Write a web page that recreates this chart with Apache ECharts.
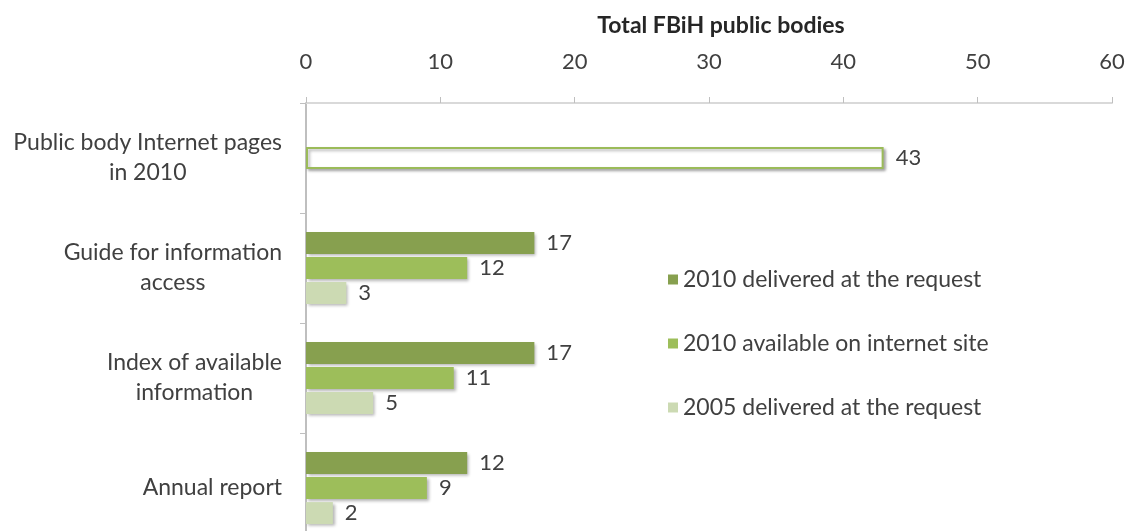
<!DOCTYPE html>
<html>
<head>
<meta charset="utf-8">
<script src="https://cdn.jsdelivr.net/npm/echarts@6/dist/echarts.min.js"></script>
<style>html,body{margin:0;padding:0;background:#fff}#c{width:1137px;height:531px}</style>
</head>
<body>
<div id="c"></div>
<script>
const categories = ['Public body Internet pages\nin 2010', 'Guide for information\naccess', 'Index of available\ninformation', 'Annual report'];
const seriesNames = ['2010 delivered at the request', '2010 available on internet site', '2005 delivered at the request'];
const delivered2010 = [null, 17, 17, 12];
const available2010 = [43, 12, 11, 9];
const delivered2005 = [null, 3, 5, 2];
const xTicks = { min: 0, max: 60, interval: 10 };
const axisTitle = 'Total FBiH public bodies';

const colors = ['#87A04F', '#9DBE5A', '#CCDAB3'];
const font = 'Lato, "Liberation Sans", sans-serif';
const shadow = { shadowBlur: 3, shadowOffsetX: 2, shadowOffsetY: 2, shadowColor: 'rgba(0,0,0,0.3)' };

function mkSeries(name, data, color, idx) {
  return {
    name: name,
    type: 'bar',
    data: data.map((v, i) => {
      if (idx === 1 && i === 0) {
        return { value: v, itemStyle: Object.assign({ color: '#ffffff', borderColor: '#9BBB59', borderWidth: 2 }, shadow) };
      }
      return v;
    }),
    barWidth: 22,
    barGap: '14%',
    itemStyle: Object.assign({ color: color }, shadow),
    label: { show: true, position: 'right', distance: 12, color: '#404040', fontSize: 22, fontFamily: font },
    emphasis: { disabled: true }
  };
}

const chart = echarts.init(document.getElementById('c'));
chart.setOption({
  animation: false,
  color: colors,
  grid: { left: 306, top: 103, width: 806, height: 440, containLabel: false, outerBoundsMode: 'none' },
  legend: {
    orient: 'vertical', left: 663, top: 263, itemGap: 41,
    itemWidth: 10, itemHeight: 10, icon: 'rect',
    textStyle: { color: '#404040', fontSize: 23, fontFamily: font },
    data: seriesNames
  },
  xAxis: {
    type: 'value', position: 'top', min: xTicks.min, max: xTicks.max, interval: xTicks.interval,
    name: axisTitle, nameLocation: 'middle', nameGap: 66,
    nameTextStyle: { fontWeight: 'bold', fontSize: 23, color: '#262626', fontFamily: font, padding: [0, 0, 0, 24] },
    axisLine: { show: true, lineStyle: { color: '#D9D9D9', width: 2 } },
    axisTick: { show: true, length: 6, lineStyle: { color: '#BFBFBF' } },
    axisLabel: { margin: 30, fontSize: 22, color: '#404040', fontFamily: font },
    splitLine: { show: false }
  },
  yAxis: {
    type: 'category', inverse: true, data: categories,
    axisLine: { show: true, lineStyle: { color: '#BFBFBF', width: 2 } },
    axisTick: { show: true, length: 6, lineStyle: { color: '#BFBFBF' } },
    axisLabel: {
      margin: 24, color: '#404040', fontSize: 23, fontFamily: font,
      formatter: v => v.split('\n').map(l => '{a|' + l + '}').join('\n'),
      rich: { a: { align: 'center', fontSize: 23, lineHeight: 30, color: '#404040', fontFamily: font } }
    }
  },
  series: [
    mkSeries(seriesNames[0], delivered2010, colors[0], 0),
    mkSeries(seriesNames[1], available2010, colors[1], 1),
    mkSeries(seriesNames[2], delivered2005, colors[2], 2)
  ]
});
</script>
</body>
</html>
